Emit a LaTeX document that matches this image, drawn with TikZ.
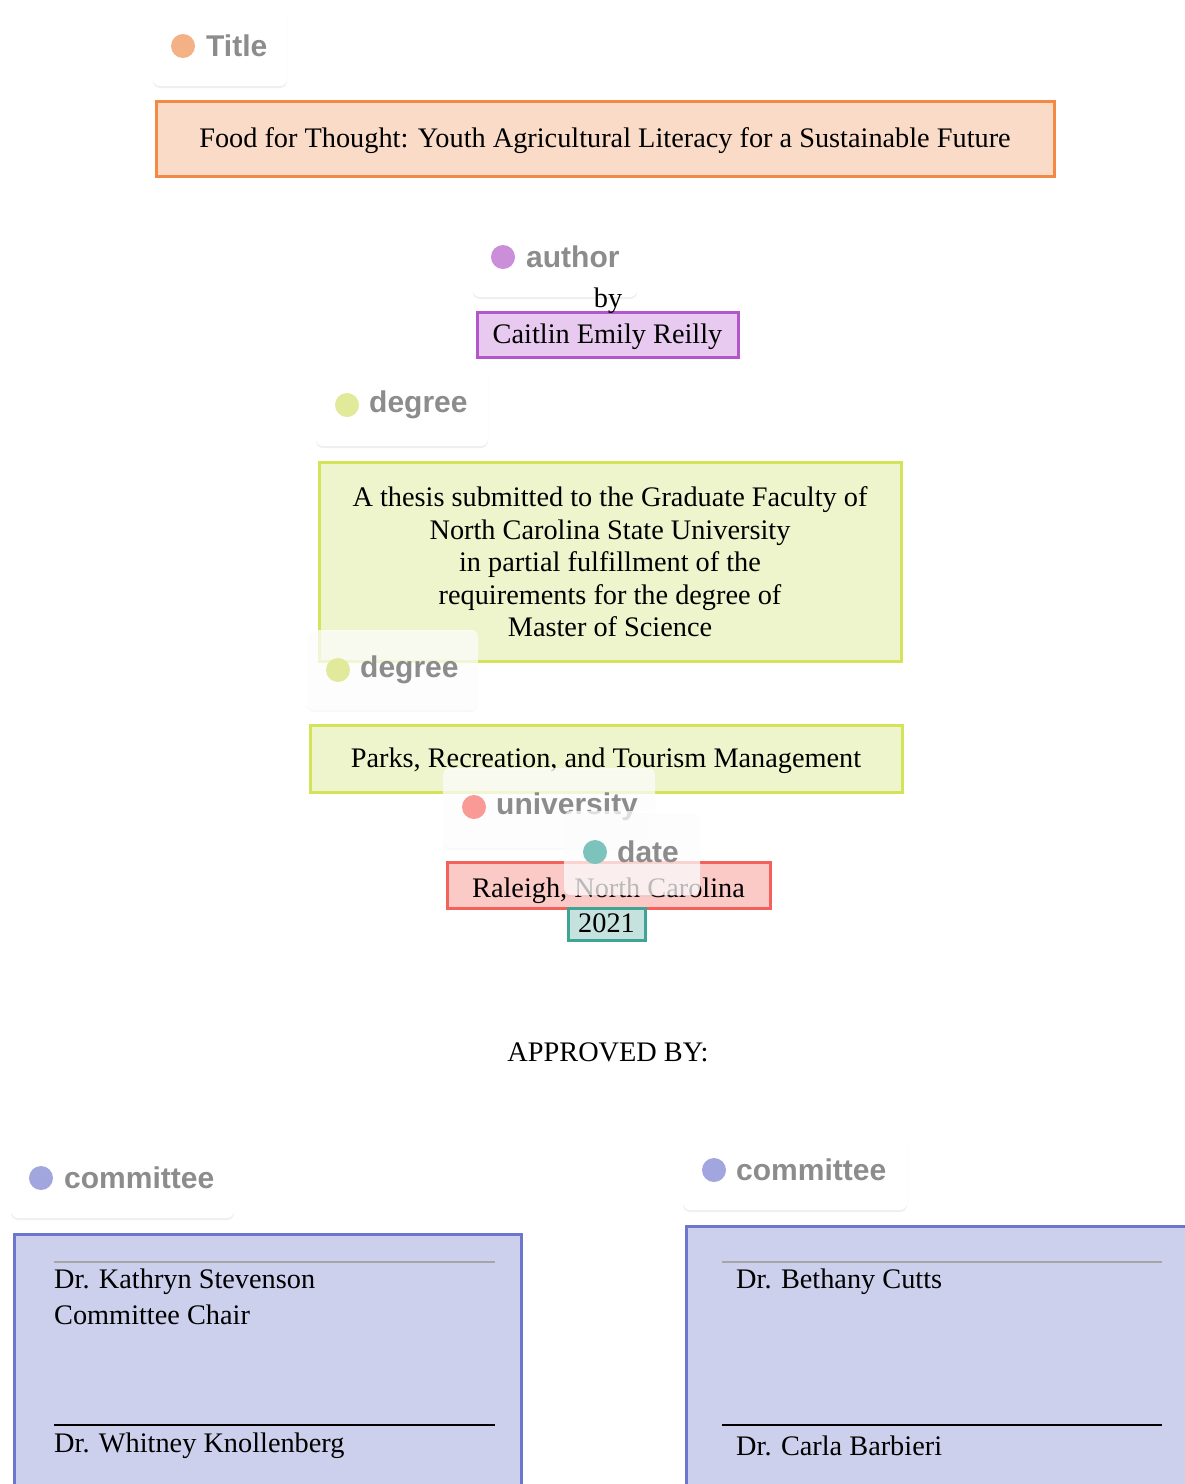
\documentclass[tikz,border=0pt]{standalone}
\usepackage{fontspec}
\setmainfont{Liberation Serif}
\newfontfamily\tagfont{Liberation Sans}
\usetikzlibrary{shadows}

\definecolor{taggray}{HTML}{8C8C8C}
\definecolor{titledot}{HTML}{F4B185}
\definecolor{titleline}{HTML}{F28A45}
\definecolor{titlefill}{HTML}{F9DBC8}
\definecolor{authordot}{HTML}{CB8ED8}
\definecolor{authorline}{HTML}{B356C9}
\definecolor{authorfill}{HTML}{E8C9EF}
\definecolor{degreedot}{HTML}{E0EA9A}
\definecolor{degreeline}{HTML}{D4E35A}
\definecolor{degreefill}{HTML}{EEF5CC}
\definecolor{unidot}{HTML}{F99A96}
\definecolor{uniline}{HTML}{F4615A}
\definecolor{unifill}{HTML}{FBC9C6}
\definecolor{datedot}{HTML}{7CC4BB}
\definecolor{dateline}{HTML}{3FA395}
\definecolor{datefill}{HTML}{C5E2DF}
\definecolor{comdot}{HTML}{A1A6DE}
\definecolor{comline}{HTML}{6B76CC}
\definecolor{comfill}{HTML}{CCD0EC}

\begin{document}
\begin{tikzpicture}[x=1pt,y=-1pt]
\tikzset{
  tagbase/.style={rounded corners=7pt,fill=white,inner sep=0pt},
  tagbox/.style={tagbase,
    drop shadow={opacity=0.13,shadow xshift=0pt,shadow yshift=-2pt}},
  glasstag/.style={tagbase,fill opacity=0.72,
    drop shadow={opacity=0.05,shadow xshift=0pt,shadow yshift=-2pt}},
  tagdot/.style={circle,inner sep=0pt,minimum size=24pt},
  tagtext/.style={anchor=west,inner sep=0pt,text=taggray,
    font=\tagfont\bfseries\fontsize{30}{30}\selectfont},
  field/.style={draw,line width=3pt,inner sep=0pt,align=center,
    font=\fontsize{28.3}{32.5}\selectfont},
  oneline/.style={text height=23.5pt,text depth=6pt},
  plain/.style={inner sep=0pt,font=\fontsize{28.3}{32.5}\selectfont},
  signline/.style={line width=1.4pt}
}
\clip (0,0) rectangle (1185,1484);
% fields
\node[field,oneline,draw=titleline,fill=titlefill,minimum width=898,minimum height=75] (f_title) at (605,138.5)
  {Food for Thought: Youth Agricultural Literacy for a Sustainable Future};
\node[field,oneline,draw=authorline,fill=authorfill,minimum width=261,minimum height=45] (f_author) at (607.5,334.5)
  {Caitlin Emily Reilly};
\node[field,draw=degreeline,fill=degreefill,minimum width=582,minimum height=199] (f_degree) at (610,562)
  {A thesis submitted to the Graduate Faculty of\\North Carolina State University\\in partial fulfillment of the\\requirements for the degree of\\Master of Science};
\node[field,oneline,draw=degreeline,fill=degreefill,minimum width=592,minimum height=67] (f_dept) at (606,758.5)
  {Parks, Recreation, and Tourism Management};
\node[field,oneline,text height=31.5pt,draw=uniline,fill=unifill,minimum width=323,minimum height=46] (f_uni) at (608.5,885)
  {Raleigh, North Carolina};
\node[field,oneline,draw=dateline,fill=datefill,minimum width=77,minimum height=32] (f_date) at (606.5,924)
  {2021};
\node[plain] (approved) at (608,1052) {APPROVED BY:};
\node[field,draw=comline,fill=comfill,minimum width=507,minimum height=266] (f_com1) at (267.5,1367) {};
\node[field,draw=comline,fill=comfill,minimum width=514,minimum height=274] (f_com2) at (943,1363) {};
% signature rules
\draw[signline,draw=black!35] (54,1262) -- (495,1262);
\draw[signline] (54,1425) -- (495,1425);
\draw[signline,draw=black!35] (722,1262) -- (1162,1262);
\draw[signline] (722,1425) -- (1162,1425);
\node[plain,anchor=west] (n_chair) at (54,1282) {Dr. Kathryn Stevenson};
\node[plain,anchor=west] (n_chairrole) at (54,1315) {Committee Chair};
\node[plain,anchor=west] (n_mem1) at (54,1446) {Dr. Whitney Knollenberg};
\node[plain,anchor=west] (n_mem2) at (736,1282) {Dr. Bethany Cutts};
\node[plain,anchor=west] (n_mem3) at (736,1446) {Dr. Carla Barbieri};
% tags
\node[tagbox,minimum width=134,minimum height=78] (t_title) at (220,47) {};
\node[tagdot,fill=titledot] (d_title) at (183,46) {};
\node[tagtext] (l_title) at (206,46) {Title};
\node[tagbox,minimum width=164,minimum height=81] (t_author) at (555,256.5) {};
\node[tagdot,fill=authordot] (d_author) at (503,257) {};
\node[tagtext] (l_author) at (526,257) {author};
\node[tagbox,minimum width=172,minimum height=82] (t_degree) at (402,405) {};
\node[tagdot,fill=degreedot] (d_degree) at (347,405) {};
\node[tagtext] (l_degree) at (369,405) {degree};
\node[glasstag,minimum width=171,minimum height=80] (t_dept) at (392.5,670) {};
\node[tagdot,fill=degreedot] (d_dept) at (338,670) {};
\node[tagtext] (l_dept) at (360,670) {degree};
\node[glasstag,minimum width=212,minimum height=80] (t_uni) at (549,808) {};
\node[tagdot,fill=unidot] (d_uni) at (474,807) {};
\node[tagtext] (l_uni) at (496,807) {university};
\node[glasstag,minimum width=136,minimum height=84] (t_date) at (632,853) {};
\node[tagdot,fill=datedot] (d_date) at (595,852) {};
\node[tagtext] (l_date) at (617,852) {date};
\node[tagbox,minimum width=223,minimum height=80] (t_com1) at (122.5,1178) {};
\node[tagdot,fill=comdot] (d_com1) at (41,1178) {};
\node[tagtext] (l_com1) at (64,1178) {committee};
\node[tagbox,minimum width=224,minimum height=80] (t_com2) at (795,1170) {};
\node[tagdot,fill=comdot] (d_com2) at (714,1170) {};
\node[tagtext] (l_com2) at (736,1170) {committee};
\node[plain] (by) at (608,301) {by};
\end{tikzpicture}
\end{document}
